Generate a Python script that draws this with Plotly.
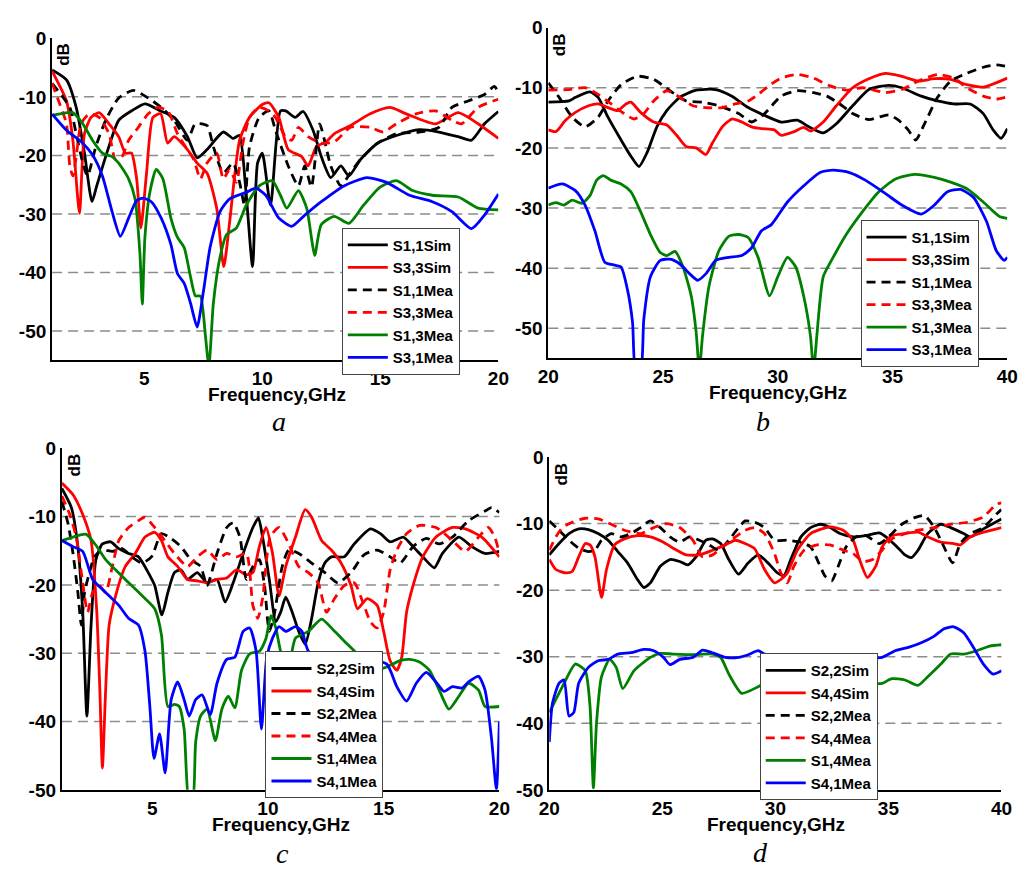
import plotly.graph_objects as go

# ======================= DATA =======================
# ---- Panel a : 1-20 GHz ----
a_f_s11_sim = [1.1, 1.71, 2.12, 2.47, 2.79, 2.99, 3.37, 3.92, 4.5, 5.03, 5.7, 6.27, 6.83, 7.24, 7.66, 8.35, 8.76, 9.03, 9.3, 9.59, 9.8, 10.0, 10.35, 10.77, 11.0, 11.39, 11.73, 12.15, 12.5, 12.9, 13.33, 13.67, 14.16, 14.85, 15.68, 16.65, 17.48, 18.3, 18.86, 19.41, 20.0]
a_db_s11_sim = [-5.4, -7.1, -11.8, -19.6, -27.9, -25.2, -20.2, -14.0, -12.3, -11.2, -12.4, -13.5, -16.8, -20.4, -19.0, -16.0, -17.1, -16.6, -25.7, -39.0, -21.3, -19.6, -28.5, -12.4, -12.4, -13.5, -12.5, -15.7, -20.2, -23.8, -21.8, -23.5, -20.7, -18.0, -16.6, -15.6, -16.0, -16.8, -17.4, -14.6, -12.5]

a_f_s33_sim = [1.1, 1.71, 1.98, 2.26, 2.47, 2.75, 3.09, 3.51, 3.92, 4.2, 4.46, 4.68, 4.86, 5.1, 5.37, 5.7, 5.99, 6.27, 6.83, 7.24, 7.66, 8.07, 8.37, 8.62, 9.04, 9.46, 10.0, 10.28, 10.7, 11.1, 11.67, 11.94, 12.29, 12.7, 13.05, 13.74, 14.57, 15.4, 16.1, 17.34, 18.3, 19.14, 20.0]
a_db_s33_sim = [-5.6, -10.7, -17.4, -29.9, -16.3, -13.5, -12.7, -14.6, -16.8, -19.6, -19.6, -24.0, -32.4, -23.0, -13.5, -12.9, -17.9, -16.8, -19.0, -21.3, -23.0, -29.0, -39.0, -31.3, -17.4, -13.5, -11.3, -11.0, -13.5, -19.0, -20.2, -21.8, -18.5, -17.7, -16.3, -14.9, -12.9, -11.8, -12.9, -14.6, -12.7, -14.6, -17.1]

a_f_s11_mea = [1.1, 1.85, 2.12, 2.4, 2.6, 2.95, 3.37, 3.92, 4.54, 5.17, 5.72, 6.27, 6.83, 7.16, 7.66, 7.93, 8.35, 8.76, 9.04, 9.25, 9.46, 9.87, 10.28, 10.56, 11.1, 11.53, 11.8, 12.08, 12.43, 12.7, 12.9, 13.33, 13.74, 14.16, 14.85, 15.68, 16.65, 17.48, 18.03, 18.72, 19.41, 19.83, 20.0]
a_db_s11_mea = [-7.7, -11.8, -16.3, -21.3, -23.5, -18.5, -14.0, -10.2, -8.9, -10.2, -11.8, -14.0, -17.4, -14.6, -14.9, -18.5, -23.0, -21.3, -24.6, -28.5, -18.5, -13.5, -12.4, -15.7, -21.8, -25.2, -21.8, -25.4, -14.6, -18.5, -21.8, -25.2, -22.9, -20.7, -18.0, -16.3, -16.0, -15.2, -11.8, -10.7, -9.6, -8.2, -9.3]

a_f_s33_mea = [1.1, 1.43, 1.71, 1.85, 1.98, 2.12, 2.33, 2.68, 3.09, 3.51, 3.78, 4.06, 4.34, 4.75, 5.17, 5.58, 6.0, 6.41, 6.83, 7.1, 7.38, 7.66, 8.07, 8.35, 8.62, 8.9, 9.18, 9.46, 9.87, 10.28, 10.56, 10.98, 11.25, 11.53, 11.94, 12.5, 13.05, 13.74, 14.57, 15.12, 15.68, 16.51, 17.34, 18.03, 18.44, 19.14, 20.0]
a_db_s33_mea = [-7.7, -11.3, -14.6, -21.8, -23.5, -20.2, -14.6, -12.9, -13.5, -16.3, -20.7, -20.2, -17.4, -15.2, -12.9, -11.8, -12.4, -16.3, -19.0, -20.7, -24.0, -21.3, -19.6, -24.0, -22.4, -24.6, -17.9, -13.5, -11.8, -12.4, -13.5, -16.8, -17.4, -15.2, -16.8, -17.9, -17.7, -15.2, -15.2, -16.0, -14.6, -12.9, -12.4, -14.0, -14.6, -11.8, -10.4]

a_f_s13_mea = [1.1, 1.43, 1.98, 2.4, 2.81, 3.23, 3.64, 3.92, 4.34, 4.61, 4.82, 4.92, 5.03, 5.24, 5.51, 5.79, 6.13, 6.41, 6.69, 6.96, 7.17, 7.38, 7.59, 7.74, 7.93, 8.21, 8.49, 8.9, 9.32, 9.87, 10.42, 10.77, 11.04, 11.53, 11.88, 12.08, 12.22, 12.5, 13.05, 13.67, 14.29, 14.99, 15.68, 16.37, 17.2, 18.3, 19.14, 20.0]
a_db_s13_mea = [-13.2, -12.9, -12.7, -14.6, -17.4, -19.6, -20.2, -21.3, -24.0, -27.4, -36.8, -45.4, -34.0, -26.3, -22.4, -24.0, -30.7, -34.0, -35.7, -40.7, -44.0, -44.0, -50.7, -56.0, -45.2, -37.4, -33.5, -32.4, -28.5, -25.2, -24.3, -26.8, -29.0, -26.0, -29.0, -34.0, -37.1, -31.8, -30.4, -31.6, -28.5, -25.4, -24.3, -26.0, -26.8, -27.1, -29.0, -29.3]

a_f_s31_mea = [1.1, 1.71, 2.4, 2.81, 3.23, 3.64, 3.99, 4.34, 4.68, 4.96, 5.3, 5.72, 6.13, 6.41, 6.69, 6.96, 7.24, 7.52, 7.79, 8.21, 8.62, 9.32, 9.73, 10.15, 10.7, 11.25, 11.8, 12.5, 13.46, 14.43, 15.26, 16.23, 17.2, 18.03, 18.86, 19.41, 20.0]
a_db_s31_mea = [-12.9, -15.7, -17.9, -19.9, -23.5, -29.6, -33.8, -30.7, -27.7, -27.3, -27.9, -30.7, -35.2, -40.2, -41.8, -45.2, -49.3, -42.9, -35.7, -29.6, -27.4, -26.3, -25.6, -26.8, -30.7, -32.1, -30.2, -27.9, -25.2, -23.8, -24.6, -26.8, -27.9, -29.6, -32.5, -30.2, -26.6]

# ---- Panel b : 20-40 GHz ----
b_f_s11_sim = [20.0, 20.9, 21.18, 21.82, 22.17, 22.6, 23.17, 23.6, 23.95, 24.3, 24.73, 25.16, 25.73, 26.44, 27.29, 28.0, 28.71, 29.42, 30.14, 30.85, 31.35, 31.98, 32.55, 33.26, 33.97, 34.83, 35.4, 36.25, 36.96, 37.67, 38.38, 38.95, 39.38, 39.73, 40.0]
b_db_s11_sim = [-12.4, -12.2, -11.6, -10.7, -11.6, -14.9, -18.7, -21.4, -23.1, -20.8, -16.5, -13.8, -11.6, -10.4, -10.3, -11.4, -13.3, -14.6, -15.7, -15.4, -16.5, -17.5, -16.0, -13.0, -10.3, -9.6, -10.0, -11.4, -12.2, -12.7, -12.7, -14.3, -17.0, -18.4, -16.8]

b_f_s33_sim = [20.0, 20.33, 20.75, 21.18, 21.75, 22.17, 22.6, 23.03, 23.38, 23.6, 24.02, 24.59, 25.16, 25.59, 26.01, 26.44, 26.87, 27.15, 27.58, 28.0, 28.43, 28.86, 29.28, 29.85, 30.14, 30.71, 31.13, 31.42, 31.98, 32.55, 33.26, 33.97, 34.69, 35.4, 36.11, 36.82, 37.53, 38.24, 38.95, 40.0]
b_db_s33_sim = [-17.0, -17.3, -15.4, -14.1, -13.0, -12.7, -13.3, -13.8, -12.7, -12.4, -14.1, -15.7, -16.2, -17.9, -19.8, -20.0, -21.1, -19.2, -16.5, -15.2, -15.7, -16.5, -16.8, -17.0, -17.9, -17.3, -16.6, -17.2, -15.7, -13.0, -10.0, -8.5, -7.6, -8.1, -8.9, -8.5, -8.6, -9.5, -9.9, -8.4]

b_f_s11_mea = [20.0, 20.47, 21.04, 21.6, 22.17, 22.6, 23.17, 23.88, 24.59, 25.3, 26.01, 26.72, 27.43, 28.29, 28.86, 29.42, 30.14, 30.85, 31.56, 32.13, 32.7, 33.26, 33.97, 34.83, 35.26, 35.68, 36.01, 36.39, 36.96, 37.53, 38.24, 38.95, 39.52, 40.0]
b_db_s11_mea = [-9.2, -11.6, -14.9, -16.5, -14.9, -12.2, -9.5, -8.1, -8.6, -10.5, -12.2, -12.4, -13.0, -14.3, -15.7, -14.3, -11.4, -10.5, -10.8, -11.4, -12.7, -14.3, -15.3, -14.5, -15.4, -17.0, -18.7, -16.0, -11.6, -8.9, -7.6, -6.6, -6.2, -6.5]

b_f_s33_mea = [20.0, 20.9, 21.6, 22.17, 22.74, 23.31, 23.74, 24.16, 24.59, 25.16, 25.73, 26.3, 26.87, 27.58, 28.14, 28.71, 29.14, 29.71, 30.14, 30.85, 31.56, 32.27, 32.98, 33.69, 34.69, 35.4, 36.11, 36.96, 37.67, 38.24, 38.95, 39.52, 40.0]
b_db_s33_mea = [-10.4, -10.3, -10.0, -11.1, -12.7, -14.3, -15.2, -14.3, -12.2, -10.5, -11.6, -13.0, -13.3, -13.3, -12.7, -12.2, -11.1, -9.4, -8.4, -7.8, -8.4, -9.7, -10.4, -10.0, -10.8, -10.3, -8.9, -7.8, -8.4, -10.0, -11.4, -11.9, -11.5]

b_f_s13_mea = [20.0, 20.33, 20.68, 21.04, 21.46, 21.82, 22.1, 22.39, 22.74, 23.17, 23.6, 24.02, 24.45, 24.88, 25.16, 25.52, 25.87, 26.23, 26.44, 26.58, 26.72, 27.0, 27.43, 27.86, 28.29, 28.71, 29.14, 29.64, 30.0, 30.42, 30.78, 31.13, 31.42, 31.56, 31.7, 31.98, 32.41, 32.98, 33.69, 34.4, 35.11, 35.96, 36.82, 37.53, 38.24, 38.95, 39.66, 40.0]
b_db_s13_mea = [-29.5, -29.1, -29.5, -28.7, -29.2, -27.9, -25.4, -24.6, -25.4, -26.0, -27.3, -30.6, -34.4, -37.4, -37.9, -37.2, -39.8, -44.7, -50.6, -57.0, -51.2, -43.0, -37.1, -34.7, -34.4, -34.9, -38.2, -44.6, -41.4, -38.2, -39.8, -44.7, -51.2, -57.0, -51.2, -41.4, -38.2, -34.4, -30.6, -27.3, -25.2, -24.4, -24.9, -25.7, -26.8, -29.0, -31.4, -31.7]

b_f_s31_mea = [20.0, 20.61, 21.18, 21.6, 22.03, 22.46, 22.89, 23.17, 23.45, 23.67, 23.81, 24.02, 24.16, 24.45, 24.88, 25.3, 25.73, 26.15, 26.51, 26.87, 27.29, 27.86, 28.43, 28.86, 29.28, 29.71, 30.42, 31.13, 31.84, 32.41, 33.12, 33.83, 34.69, 35.4, 36.25, 36.82, 37.39, 37.95, 38.52, 39.09, 39.52, 39.87, 40.0]
b_db_s31_mea = [-26.7, -26.0, -27.1, -29.5, -33.8, -39.0, -39.5, -39.8, -43.6, -49.0, -57.0, -57.0, -48.5, -41.4, -38.7, -38.5, -39.3, -40.9, -42.0, -40.9, -38.7, -38.2, -37.9, -36.6, -33.8, -32.8, -29.0, -26.3, -24.1, -23.7, -24.1, -25.4, -27.6, -29.5, -31.0, -29.5, -27.3, -26.9, -28.2, -32.2, -37.1, -38.7, -38.2]

# ---- Panel c : 1-20 GHz ----
c_f_s22_sim = [1.1, 1.51, 1.79, 2.0, 2.18, 2.36, 2.57, 2.85, 3.21, 3.56, 3.98, 4.41, 4.83, 5.11, 5.42, 5.68, 5.96, 6.24, 6.53, 6.95, 7.37, 7.8, 8.15, 8.5, 8.93, 9.35, 9.59, 9.77, 10.06, 10.34, 10.55, 10.77, 11.05, 11.33, 11.61, 11.89, 12.17, 12.46, 12.74, 13.3, 13.73, 14.43, 14.86, 15.28, 15.85, 16.27, 16.69, 17.19, 17.54, 18.25, 18.81, 19.38, 20.0]
c_db_s22_sim = [-5.9, -8.7, -14.4, -24.0, -39.2, -25.9, -16.3, -14.0, -13.7, -14.7, -15.4, -15.9, -18.2, -20.1, -24.4, -21.1, -18.2, -17.8, -19.2, -18.2, -19.7, -19.2, -22.5, -19.7, -15.4, -11.6, -10.2, -13.0, -19.2, -25.4, -24.0, -21.8, -24.0, -26.8, -28.7, -24.9, -19.7, -16.8, -15.9, -15.9, -14.0, -11.8, -12.5, -13.7, -13.0, -14.4, -15.9, -17.5, -15.4, -13.0, -14.4, -15.4, -15.1]

c_f_s44_sim = [1.1, 1.58, 2.0, 2.36, 2.6, 2.74, 2.85, 2.99, 3.14, 3.42, 3.84, 4.27, 4.69, 5.11, 5.4, 5.68, 6.1, 6.53, 6.95, 7.37, 7.8, 8.22, 8.64, 9.07, 9.35, 9.63, 9.92, 10.2, 10.48, 10.77, 11.19, 11.61, 11.89, 12.32, 12.74, 13.16, 13.59, 13.87, 14.29, 14.72, 15.0, 15.28, 15.57, 15.78, 15.99, 16.27, 16.69, 17.26, 17.97, 18.53, 19.24, 20.0]
c_db_s44_sim = [-5.1, -6.8, -9.7, -13.5, -23.5, -35.4, -46.8, -35.4, -25.9, -21.6, -17.3, -15.4, -13.0, -12.3, -13.5, -15.9, -17.3, -19.2, -19.4, -19.7, -19.2, -19.0, -17.8, -18.5, -18.2, -14.4, -11.6, -15.4, -21.6, -17.3, -13.0, -9.0, -10.1, -13.5, -14.9, -16.8, -20.1, -23.5, -22.0, -23.0, -26.8, -31.1, -32.5, -30.6, -24.0, -20.1, -15.9, -13.0, -11.6, -11.8, -13.0, -15.9]

c_f_s22_mea = [1.1, 1.37, 1.58, 1.79, 1.94, 2.08, 2.29, 2.5, 2.85, 3.28, 3.7, 4.12, 4.55, 4.97, 5.4, 5.82, 6.24, 6.67, 7.09, 7.37, 7.8, 8.22, 8.5, 8.79, 9.07, 9.35, 9.63, 9.85, 10.06, 10.27, 10.62, 10.9, 11.33, 11.89, 12.46, 13.02, 13.59, 14.15, 14.72, 15.28, 15.71, 16.27, 16.84, 17.4, 17.97, 18.67, 19.38, 19.66, 20.0]
c_db_s22_mea = [-7.8, -11.1, -15.4, -21.1, -25.9, -21.1, -18.2, -15.9, -14.9, -15.1, -14.7, -15.9, -16.8, -15.9, -12.5, -13.2, -14.4, -16.3, -17.3, -20.1, -15.4, -11.6, -10.9, -13.0, -19.2, -17.3, -16.3, -20.0, -26.8, -24.4, -17.3, -14.9, -15.4, -16.8, -18.2, -19.7, -18.2, -15.6, -14.9, -15.9, -16.8, -14.4, -13.2, -14.0, -13.0, -10.6, -9.2, -8.7, -9.4]

c_f_s44_mea = [1.1, 1.44, 1.72, 2.0, 2.21, 2.43, 2.71, 2.99, 3.28, 3.56, 3.98, 4.41, 4.69, 5.11, 5.54, 5.96, 6.53, 6.95, 7.37, 7.8, 8.22, 8.64, 9.07, 9.35, 9.56, 9.77, 10.1, 10.48, 10.9, 11.33, 11.75, 12.17, 12.53, 12.88, 13.3, 13.73, 14.15, 14.43, 14.72, 15.0, 15.28, 15.57, 15.99, 16.55, 17.26, 17.97, 18.53, 19.1, 19.52, 19.8, 20.0]
c_db_s44_mea = [-7.0, -9.7, -13.0, -19.7, -24.0, -21.1, -20.1, -21.1, -17.3, -13.5, -11.6, -10.6, -10.1, -11.6, -13.5, -15.4, -17.3, -15.9, -14.9, -16.3, -15.4, -15.9, -15.4, -23.0, -24.9, -22.0, -13.0, -11.6, -14.0, -17.3, -18.2, -19.7, -24.0, -22.0, -20.1, -19.7, -23.0, -25.4, -26.3, -24.0, -17.8, -14.9, -12.5, -11.3, -11.6, -13.5, -15.1, -13.0, -11.6, -13.0, -15.4]

c_f_s14_mea = [1.1, 1.58, 2.15, 2.57, 2.99, 3.42, 3.84, 4.27, 4.69, 5.11, 5.4, 5.68, 5.96, 6.17, 6.38, 6.6, 6.74, 6.88, 7.09, 7.37, 7.73, 8.01, 8.29, 8.57, 8.86, 9.21, 9.63, 9.92, 10.13, 10.34, 10.62, 10.9, 11.19, 11.75, 12.32, 12.88, 13.44, 14.01, 14.58, 15.14, 15.71, 16.13, 16.55, 16.98, 17.4, 17.82, 18.25, 18.67, 19.1, 19.38, 20.0]
c_db_s14_mea = [-13.5, -13.0, -12.6, -14.2, -16.3, -17.8, -19.2, -20.6, -22.0, -23.5, -27.3, -37.8, -37.5, -37.8, -41.1, -52.0, -52.0, -43.0, -39.2, -38.2, -42.8, -38.2, -36.3, -38.0, -32.5, -30.1, -29.7, -27.8, -24.5, -26.3, -30.6, -31.6, -27.8, -26.8, -25.0, -26.8, -28.7, -30.6, -32.5, -32.0, -31.1, -30.9, -31.3, -32.5, -35.4, -38.2, -36.3, -34.4, -35.4, -37.8, -37.8]

c_f_s41_mea = [1.1, 1.58, 2.0, 2.43, 2.99, 3.56, 3.98, 4.41, 4.69, 4.9, 5.08, 5.32, 5.56, 5.82, 6.1, 6.38, 6.6, 6.88, 7.16, 7.51, 7.8, 8.22, 8.57, 8.93, 9.21, 9.49, 9.72, 9.95, 10.2, 10.48, 10.77, 11.19, 11.47, 11.75, 12.32, 13.02, 13.73, 14.43, 15.14, 15.57, 15.99, 16.41, 16.84, 17.26, 17.61, 17.97, 18.39, 18.67, 19.1, 19.38, 19.66, 19.87, 20.0]
c_db_s41_mea = [-13.5, -14.4, -15.1, -19.2, -21.1, -23.0, -24.9, -25.9, -29.7, -37.8, -45.4, -41.8, -47.5, -36.8, -34.2, -36.8, -39.2, -36.8, -36.1, -39.0, -34.4, -30.9, -30.6, -26.8, -26.3, -29.7, -41.1, -30.6, -27.8, -26.1, -26.8, -26.1, -26.8, -29.7, -30.6, -30.6, -30.6, -30.9, -31.6, -34.9, -37.0, -34.4, -32.8, -34.2, -35.6, -34.9, -35.1, -34.2, -33.4, -35.4, -42.5, -49.9, -40.0]

# ---- Panel d : 20-40 GHz ----
d_f_s22_sim = [20.0, 20.43, 20.87, 21.3, 21.73, 22.16, 22.6, 23.03, 23.46, 23.9, 24.18, 24.47, 24.91, 25.34, 25.77, 26.13, 26.49, 26.93, 27.22, 27.58, 27.94, 28.37, 28.8, 29.24, 29.67, 30.09, 30.38, 30.68, 31.13, 31.56, 32.0, 32.42, 32.86, 33.44, 34.0, 34.6, 35.0, 35.44, 35.73, 36.02, 36.31, 36.74, 37.32, 37.75, 38.33, 38.62, 39.2, 40.0]
d_db_s22_sim = [-14.7, -13.0, -11.5, -10.8, -10.9, -11.5, -12.5, -14.2, -15.9, -18.4, -19.6, -18.9, -16.4, -15.4, -15.7, -16.2, -15.0, -12.5, -12.3, -13.0, -15.4, -17.6, -15.9, -14.7, -15.9, -17.4, -17.8, -15.4, -12.0, -10.6, -10.1, -10.6, -11.5, -12.0, -11.8, -11.4, -12.3, -13.7, -14.7, -15.1, -14.0, -11.5, -10.1, -10.6, -11.5, -12.0, -10.8, -9.3]

d_f_s44_sim = [20.0, 20.29, 20.72, 21.01, 21.3, 21.59, 21.8, 22.02, 22.31, 22.53, 22.89, 23.32, 23.9, 24.47, 25.05, 25.48, 26.06, 26.64, 27.22, 27.79, 28.23, 28.66, 29.09, 29.52, 29.96, 30.24, 30.53, 30.97, 31.56, 32.42, 33.0, 33.44, 33.72, 34.07, 34.44, 34.72, 35.15, 35.73, 36.31, 36.74, 37.32, 37.89, 38.18, 38.62, 39.2, 40.0]
d_db_s44_sim = [-15.4, -16.9, -17.4, -17.2, -15.0, -13.0, -13.2, -15.0, -21.1, -16.9, -13.2, -12.3, -11.8, -12.0, -12.8, -13.7, -14.7, -14.7, -14.0, -13.2, -12.5, -13.0, -13.8, -16.9, -18.9, -18.4, -17.4, -14.0, -11.5, -10.5, -11.0, -12.5, -15.4, -18.1, -16.4, -13.5, -11.8, -11.5, -11.3, -12.0, -12.8, -13.0, -13.2, -12.0, -11.3, -10.6]

d_f_s22_mea = [20.0, 20.43, 20.87, 21.3, 21.73, 22.02, 22.31, 22.74, 23.17, 23.61, 24.04, 24.47, 24.91, 25.34, 25.77, 26.2, 26.64, 27.07, 27.5, 27.94, 28.37, 28.66, 29.09, 29.52, 29.96, 30.53, 31.13, 31.56, 31.85, 32.2, 32.49, 32.78, 33.13, 33.56, 34.0, 34.6, 35.0, 35.59, 36.16, 36.6, 37.03, 37.39, 37.84, 38.18, 38.62, 39.2, 39.77, 40.0]
d_db_s22_mea = [-9.6, -11.0, -12.5, -13.7, -14.2, -14.0, -12.5, -11.5, -12.0, -11.5, -10.6, -9.6, -10.6, -12.0, -12.8, -12.0, -12.5, -13.2, -14.0, -12.5, -10.6, -9.6, -9.8, -10.6, -12.5, -12.5, -12.8, -13.5, -15.4, -17.9, -18.6, -16.4, -13.5, -12.0, -11.8, -13.0, -12.0, -10.1, -9.1, -8.8, -10.6, -13.0, -15.9, -13.0, -11.5, -10.6, -8.6, -7.9]

d_f_s44_mea = [20.0, 20.29, 20.58, 21.01, 21.59, 22.16, 22.74, 23.32, 24.04, 24.62, 25.19, 25.77, 26.35, 26.78, 27.22, 27.65, 28.23, 28.66, 29.09, 29.52, 29.96, 30.24, 30.53, 30.82, 31.27, 31.85, 32.42, 33.0, 33.44, 33.87, 34.3, 34.72, 35.15, 35.73, 36.31, 37.03, 37.75, 38.48, 39.2, 39.77, 40.0]
d_db_s44_mea = [-14.0, -12.0, -10.6, -9.8, -9.2, -9.3, -10.1, -11.0, -11.5, -10.6, -10.0, -10.6, -12.5, -15.0, -14.7, -13.5, -12.0, -11.0, -10.6, -11.5, -14.5, -17.4, -18.9, -16.4, -14.0, -13.2, -13.2, -14.0, -14.5, -15.7, -15.4, -14.0, -12.3, -11.5, -11.0, -10.6, -10.1, -9.8, -9.0, -7.1, -6.9]

d_f_s14_mea = [20.0, 20.58, 21.15, 21.59, 21.8, 21.95, 22.09, 22.31, 22.67, 22.96, 23.25, 23.75, 24.47, 24.91, 25.48, 26.35, 27.22, 27.58, 27.94, 28.51, 29.24, 29.81, 30.5, 31.5, 32.5, 33.5, 34.2, 34.72, 35.15, 35.73, 36.31, 36.74, 37.32, 37.75, 38.33, 38.91, 39.48, 40.0]
d_db_s14_mea = [-38.4, -34.5, -31.1, -32.1, -37.4, -49.7, -39.9, -33.0, -30.4, -31.6, -34.8, -32.1, -30.1, -29.5, -29.6, -29.7, -29.6, -30.1, -32.6, -35.5, -34.5, -33.5, -33.5, -34.0, -34.2, -34.0, -34.0, -34.0, -33.3, -33.5, -34.3, -33.0, -31.1, -29.6, -29.6, -29.1, -28.4, -28.2]

d_f_s41_mea = [20.0, 20.14, 20.43, 20.65, 20.87, 21.08, 21.3, 21.73, 22.16, 22.6, 23.03, 23.61, 24.18, 24.62, 25.05, 25.34, 25.77, 26.35, 26.78, 27.22, 27.79, 28.37, 28.8, 29.24, 29.52, 30.2, 31.0, 32.0, 33.0, 34.0, 34.72, 35.3, 35.88, 36.45, 37.03, 37.46, 37.89, 38.33, 38.76, 39.2, 39.63, 40.0]
d_db_s41_mea = [-42.8, -37.0, -34.0, -33.5, -38.9, -38.4, -34.0, -31.6, -30.6, -30.4, -29.6, -29.4, -28.9, -29.1, -30.1, -31.2, -30.4, -30.1, -29.0, -29.4, -30.1, -30.1, -29.7, -29.1, -29.6, -29.8, -30.0, -29.8, -30.0, -30.2, -30.1, -29.1, -28.6, -27.9, -26.9, -25.8, -25.5, -26.4, -28.6, -31.1, -32.6, -32.1]

# ---- labels ----
names_ab = ["S1,1Sim", "S3,3Sim", "S1,1Mea", "S3,3Mea", "S1,3Mea", "S3,1Mea"]
names_cd = ["S2,2Sim", "S4,4Sim", "S2,2Mea", "S4,4Mea", "S1,4Mea", "S4,1Mea"]
x_ticks_low = [5, 10, 15, 20]
x_ticks_high = [20, 25, 30, 35, 40]
y_ticks = [0, -10, -20, -30, -40, -50]
y_tick_text = ["0", "-10", "-20", "-30", "-40", "-50"]
grid_levels = [-10, -20, -30, -40, -50]
x_title = "Frequency,GHz"
y_title = "dB"
captions = ["a", "b", "c", "d"]

# ======================= STYLE / LAYOUT =======================
W, H = 1034, 876
COLORS = ["#000000", "#FF0000", "#000000", "#FF0000", "#008000", "#0000FF"]
DASHES = ["solid", "solid", "9px,6px", "9px,6px", "solid", "solid"]
FONT = "Arial, Liberation Sans, sans-serif"

series = {
    "a": list(zip(names_ab,
                  [a_f_s11_sim, a_f_s33_sim, a_f_s11_mea, a_f_s33_mea, a_f_s13_mea, a_f_s31_mea],
                  [a_db_s11_sim, a_db_s33_sim, a_db_s11_mea, a_db_s33_mea, a_db_s13_mea, a_db_s31_mea])),
    "b": list(zip(names_ab,
                  [b_f_s11_sim, b_f_s33_sim, b_f_s11_mea, b_f_s33_mea, b_f_s13_mea, b_f_s31_mea],
                  [b_db_s11_sim, b_db_s33_sim, b_db_s11_mea, b_db_s33_mea, b_db_s13_mea, b_db_s31_mea])),
    "c": list(zip(names_cd,
                  [c_f_s22_sim, c_f_s44_sim, c_f_s22_mea, c_f_s44_mea, c_f_s14_mea, c_f_s41_mea],
                  [c_db_s22_sim, c_db_s44_sim, c_db_s22_mea, c_db_s44_mea, c_db_s14_mea, c_db_s41_mea])),
    "d": list(zip(names_cd,
                  [d_f_s22_sim, d_f_s44_sim, d_f_s22_mea, d_f_s44_mea, d_f_s14_mea, d_f_s41_mea],
                  [d_db_s22_sim, d_db_s44_sim, d_db_s22_mea, d_db_s44_mea, d_db_s14_mea, d_db_s41_mea])),
}

# pixel geometry of each panel
panels = [
    dict(key="a", n="", xdom=(42, 498), ydom=(29, 359), xr=[1.1, 20], yr=[-55, 0], xt=x_ticks_low,
         leg=(338, 223), db=(54, 45), xt_pos=(272, 394), cap=(274, 422)),
    dict(key="b", n="2", xdom=(549, 1018), ydom=(18, 357), xr=[20, 40], yr=[-55, 0], xt=x_ticks_high,
         leg=(868, 215), db=(560, 36), xt_pos=(784, 392), cap=(768, 422)),
    dict(key="c", n="3", xdom=(52, 499), ydom=(449, 799), xr=[1.1, 20], yr=[-50, 0], xt=x_ticks_low,
         leg=(260, 657), db=(65, 466), xt_pos=(276, 835), cap=(277, 864)),
    dict(key="d", n="4", xdom=(550, 1012), ydom=(458, 799), xr=[20, 40], yr=[-50, 0], xt=x_ticks_high,
         leg=(765, 659), db=(563, 476), xt_pos=(782, 835), cap=(766, 863)),
]

fig = go.Figure()
layout = dict(width=W, height=H, margin=dict(l=0, r=0, t=0, b=0), autosize=False,
              paper_bgcolor="white", plot_bgcolor="white", showlegend=True,
              shapes=[], annotations=[])

for i, p in enumerate(panels):
    n = p["n"]
    xa, ya = "x" + n, "y" + n
    legkey = "legend" + n
    for j, (name, f, db) in enumerate(series[p["key"]]):
        fig.add_trace(go.Scatter(
            x=f, y=db, name=name, mode="lines", xaxis=xa, yaxis=ya, legend=legkey,
            line=dict(color=COLORS[j], width=2.8, dash=DASHES[j], shape="spline", smoothing=0.6),
        ))
    layout["xaxis" + n] = dict(
        domain=[p["xdom"][0] / W, p["xdom"][1] / W], range=p["xr"], anchor=ya,
        tickvals=p["xt"], ticktext=[str(v) for v in p["xt"]], ticks="",
        showline=True, linecolor="black", linewidth=2, showgrid=False, zeroline=False,
        tickfont=dict(family=FONT, size=19, color="black", weight="bold"), fixedrange=True)
    layout["yaxis" + n] = dict(
        domain=[1 - p["ydom"][1] / H, 1 - p["ydom"][0] / H], range=p["yr"], anchor=xa,
        tickvals=y_ticks, ticktext=y_tick_text, ticks="",
        showline=True, linecolor="black", linewidth=2, showgrid=False, zeroline=False,
        tickfont=dict(family=FONT, size=19, color="black", weight="bold"), fixedrange=True)
    for g in grid_levels:
        if g > p["yr"][0]:
            layout["shapes"].append(dict(
                type="line", xref=xa + " domain", yref=ya, x0=0, x1=1, y0=g, y1=g,
                line=dict(color="#8c8c8c", width=1.5, dash="10px,6px"), layer="below"))
    layout[legkey] = dict(
        x=p["leg"][0] / W, y=1 - p["leg"][1] / H, xanchor="left", yanchor="top",
        xref="paper", yref="paper", bgcolor="white", bordercolor="#444", borderwidth=1,
        font=dict(family=FONT, size=15, color="black", weight="bold"),
        tracegroupgap=0, itemwidth=40)
    layout["annotations"] += [
        dict(x=p["xt_pos"][0] / W, y=1 - p["xt_pos"][1] / H, xref="paper", yref="paper",
             text=x_title, showarrow=False, xanchor="center", yanchor="middle",
             font=dict(family=FONT, size=19, color="black", weight="bold")),
        dict(x=p["db"][0] / W, y=1 - p["db"][1] / H, xref="paper", yref="paper",
             text=y_title, showarrow=False, textangle=-90, xanchor="center", yanchor="middle",
             font=dict(family=FONT, size=17, color="black", weight="bold")),
        dict(x=p["cap"][0] / W, y=1 - p["cap"][1] / H, xref="paper", yref="paper",
             text="<i>" + captions[i] + "</i>", showarrow=False, xanchor="center", yanchor="middle",
             font=dict(family="Liberation Serif, Times New Roman, serif", size=28, color="black")),
    ]

fig.update_layout(**layout)
fig.write_html("out.html")
